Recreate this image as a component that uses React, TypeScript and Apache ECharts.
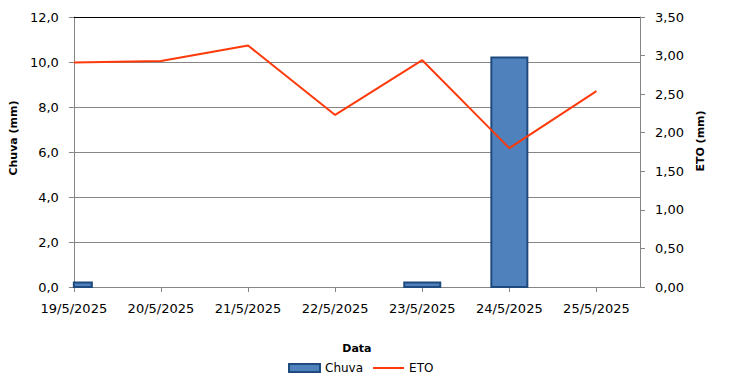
import React, { useEffect, useRef } from "react";
import * as echarts from "echarts";

const categories = ["19/5/2025", "20/5/2025", "21/5/2025", "22/5/2025", "23/5/2025", "24/5/2025", "25/5/2025"];
const chuva: (number | null)[] = [0.2, null, null, null, 0.2, 10.2, null];
const eto: number[] = [2.91, 2.93, 3.13, 2.23, 2.94, 1.8, 2.54];
const leftTicks = { min: 0, max: 12, interval: 2 };
const rightTicks = { min: 0, max: 3.5, interval: 0.5 };

const FONT = "DejaVu Sans";
const GRAY = "#868686";
const BAR_FILL = "#4F81BD";
const BAR_BORDER = "#1F4A7E";
const LINE_COLOR = "#FF3A0A";
const BAR_WIDTH = 36;

export default function App() {
  const ref = useRef<HTMLDivElement>(null);
  useEffect(() => {
    if (!ref.current) return;
    const chart = echarts.init(ref.current, null, { renderer: "svg" });
    const xMax = categories.length - 0.5;
    const barData = chuva
      .map((v, i) => (v == null ? null : [i, v]))
      .filter((d) => d != null);
    chart.setOption({
      animation: false,
      backgroundColor: "#fff",
      textStyle: { fontFamily: FONT, color: "#000" },
      grid: { left: 70, right: 93, top: 17, bottom: 100, containLabel: false },
      legend: {
        top: 357,
        left: 283,
        itemWidth: 31,
        itemHeight: 8,
        itemGap: 10,
        textStyle: { fontFamily: FONT, fontSize: 12, color: "#000" },
        data: [
          {
            name: "Chuva",
            icon: "rect",
            itemStyle: { color: BAR_FILL, borderColor: BAR_BORDER, borderWidth: 2 },
          },
          {
            name: "ETO",
            icon: "path://M0,3 L31,3 L31,5 L0,5 Z",
            itemStyle: { color: LINE_COLOR, borderWidth: 0 },
          },
        ],
      },
      xAxis: [
        {
          type: "value",
          min: 0,
          max: xMax,
          interval: 1,
          name: "Data",
          nameLocation: "middle",
          nameGap: 56,
          nameTextStyle: { fontFamily: FONT, fontWeight: "bold", fontSize: 11, color: "#000" },
          axisLine: { show: true, onZero: false, lineStyle: { color: GRAY, width: 1 } },
          axisTick: { show: true, length: 5, lineStyle: { color: GRAY } },
          axisLabel: {
            margin: 15,
            fontFamily: FONT,
            fontSize: 13,
            color: "#000",
            showMaxLabel: false,
            formatter: (v: number) => (Number.isInteger(v) && categories[v] ? categories[v] : ""),
          },
          splitLine: { show: false },
        },
        {
          type: "value",
          position: "top",
          min: 0,
          max: xMax,
          axisLine: { show: true, onZero: false, lineStyle: { color: "#000", width: 1 } },
          axisTick: { show: false },
          axisLabel: { show: false },
          splitLine: { show: false },
        },
      ],
      yAxis: [
        {
          type: "value",
          ...leftTicks,
          position: "left",
          name: "Chuva (mm)",
          nameLocation: "middle",
          nameGap: 42,
          nameRotate: 90,
          nameTextStyle: {
            fontFamily: FONT,
            fontWeight: "bold",
            fontSize: 11,
            color: "#000",
            padding: [0, 0, 0, 28],
          },
          axisLine: { show: true, onZero: false, lineStyle: { color: GRAY, width: 1 } },
          axisTick: { show: true, length: 5, lineStyle: { color: GRAY } },
          axisLabel: {
            margin: 15,
            fontFamily: FONT,
            fontSize: 13,
            color: "#000",
            formatter: (v: number) => v.toFixed(1).replace(".", ","),
          },
          splitLine: { show: true, lineStyle: { color: GRAY, width: 1 } },
        },
        {
          type: "value",
          ...rightTicks,
          position: "right",
          name: "ETO (mm)",
          nameLocation: "middle",
          nameGap: 53,
          nameRotate: 90,
          nameTextStyle: {
            fontFamily: FONT,
            fontWeight: "bold",
            fontSize: 11,
            color: "#000",
            padding: [0, 0, 0, 22],
          },
          axisLine: { show: true, onZero: false, lineStyle: { color: GRAY, width: 1 } },
          axisTick: { show: true, length: 5, lineStyle: { color: GRAY } },
          axisLabel: {
            margin: 15,
            fontFamily: FONT,
            fontSize: 13,
            color: "#000",
            formatter: (v: number) => v.toFixed(2).replace(".", ","),
          },
          splitLine: { show: false },
        },
      ],
      series: [
        {
          name: "Chuva",
          type: "custom",
          xAxisIndex: 0,
          yAxisIndex: 0,
          itemStyle: { color: BAR_FILL, borderColor: BAR_BORDER, borderWidth: 2 },
          encode: { x: 0, y: 1 },
          renderItem: (params: any, api: any) => {
            const x = api.value(0);
            const y = api.value(1);
            const base = api.coord([x, 0]);
            const top = api.coord([x, y]);
            const cs = params.coordSys;
            const rect = echarts.graphic.clipRectByRect(
              { x: base[0] - BAR_WIDTH / 2, y: top[1], width: BAR_WIDTH, height: base[1] - top[1] },
              { x: cs.x, y: cs.y, width: cs.width, height: cs.height }
            );
            if (!rect) return null;
            return {
              type: "rect",
              shape: rect,
              style: { fill: BAR_FILL, stroke: BAR_BORDER, lineWidth: 2 },
            };
          },
          data: barData,
        },
        {
          name: "ETO",
          type: "line",
          xAxisIndex: 0,
          yAxisIndex: 1,
          symbol: "none",
          showSymbol: false,
          lineStyle: { color: LINE_COLOR, width: 2 },
          itemStyle: { color: LINE_COLOR },
          data: eto.map((v, i) => [i, v]),
        },
      ],
    });
    return () => chart.dispose();
  }, []);
  return (
    <div
      ref={ref}
      style={{ position: "fixed", left: 0, top: 0, width: 733, height: 387, background: "#fff" }}
    />
  );
}
